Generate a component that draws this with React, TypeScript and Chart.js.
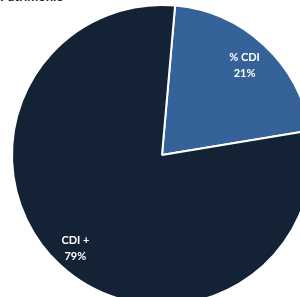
import React, { useEffect, useRef } from "react";
import { Chart, registerables } from "chart.js";

Chart.register(...registerables);

const categories = ["% CDI", "CDI +"];
const values = [21, 79];
const valueLabels = ["21%", "79%"];
const colors = ["#356399", "#142236"];
const labelRadii = [0.81, 0.85];

const labelPlugin = {
  id: "sliceLabels",
  afterDatasetsDraw(chart: any) {
    const ctx = chart.ctx;
    const meta = chart.getDatasetMeta(0);
    ctx.save();
    ctx.fillStyle = "#ffffff";
    ctx.font = "bold 11px Lato, 'Open Sans', sans-serif";
    ctx.textAlign = "center";
    ctx.textBaseline = "middle";
    meta.data.forEach((arc: any, i: number) => {
      const mid = (arc.startAngle + arc.endAngle) / 2;
      const r = arc.outerRadius * labelRadii[i];
      const x = arc.x + Math.cos(mid) * r;
      const y = arc.y + Math.sin(mid) * r;
      ctx.fillText(categories[i], x, y - 8);
      ctx.fillText(valueLabels[i], x, y + 8);
    });
    ctx.restore();
  },
};

export default function App() {
  const ref = useRef<HTMLCanvasElement>(null);
  useEffect(() => {
    if (!ref.current) return;
    const chart = new Chart(ref.current, {
      type: "pie",
      data: {
        labels: categories,
        datasets: [
          {
            data: values,
            backgroundColor: colors,
            borderColor: "#ffffff",
            borderWidth: 2,
          },
        ],
      },
      options: {
        responsive: false,
        animation: false,
        rotation: 5,
        radius: 150,
        layout: { padding: 0 },
        plugins: {
          legend: { display: false },
          tooltip: { enabled: false },
        },
      },
      plugins: [labelPlugin],
    });
    return () => chart.destroy();
  }, []);
  return (
    <div
      style={{
        position: "fixed",
        left: 0,
        top: 0,
        width: 300,
        height: 297,
        overflow: "hidden",
        background: "#ffffff",
      }}
    >
      <div
        style={{
          position: "absolute",
          left: 0,
          top: -12,
          font: "bold 13px Lato, sans-serif",
          color: "#142236",
          whiteSpace: "nowrap",
        }}
      >
        Patrimônio
      </div>
      <canvas
        ref={ref}
        width={324}
        height={310}
        style={{ position: "absolute", left: 0, top: 0 }}
      />
    </div>
  );
}
